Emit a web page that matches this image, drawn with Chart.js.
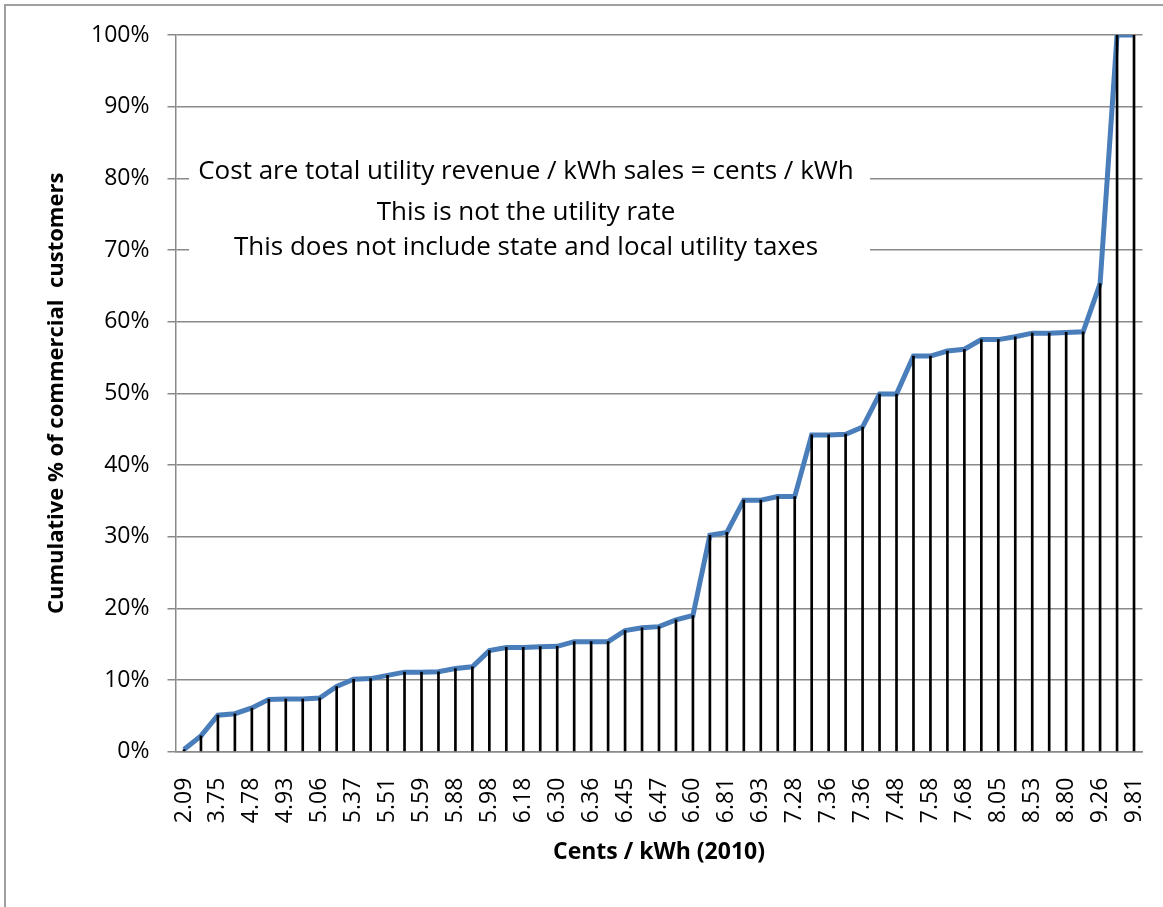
<!DOCTYPE html>
<html>
<head>
<meta charset="utf-8">
<script src="https://cdn.jsdelivr.net/npm/chart.js@4.4.1/dist/chart.umd.min.js"></script>
<style>
  html, body { margin: 0; padding: 0; background: #fff; }
  #wrap { position: relative; width: 1163px; height: 907px; }
  #frame { position: absolute; left: 4px; top: 4px; right: -10px; bottom: -10px; border-left: 2px solid #a0a0a0; border-top: 2px solid #a0a0a0; }
  canvas { position: absolute; left: 0; top: 0; }
</style>
</head>
<body>
<div id="wrap">
  <div id="frame"></div>
  <canvas id="chart" width="1163" height="907"></canvas>
</div>
<script>
// only every other category carries a printed label
const categories = [
  '2.09', '', '3.75', '', '4.78', '', '4.93', '', '5.06', '', '5.37', '', '5.51', '', '5.59', '',
  '5.88', '', '5.98', '', '6.18', '', '6.30', '', '6.36', '', '6.45', '', '6.47', '', '6.60', '',
  '6.81', '', '6.93', '', '7.28', '', '7.36', '', '7.36', '', '7.48', '', '7.58', '', '7.68', '',
  '8.05', '', '8.53', '', '8.80', '', '9.26', '', '9.81'
];

const cumulativePct = [
  0.3, 2.2, 5.1, 5.3, 6.1, 7.3, 7.35, 7.35, 7.5, 9.1, 10.1, 10.2, 10.65, 11.1, 11.1, 11.15,
  11.6, 11.85, 14.1, 14.55, 14.55, 14.65, 14.7, 15.35, 15.35, 15.35, 16.9, 17.3, 17.45, 18.4, 19.0, 30.2,
  30.6, 35.1, 35.1, 35.6, 35.6, 44.2, 44.2, 44.3, 45.3, 49.9, 49.9, 55.2, 55.2, 55.9, 56.15, 57.5,
  57.5, 57.9, 58.4, 58.4, 58.5, 58.6, 65.3, 100, 100
];

const noteLines = [
  'Cost are total utility revenue / kWh sales = cents / kWh',
  'This is not the utility rate',
  'This does not include state and local utility taxes'
];

const FONT = '"Open Sans", "DejaVu Sans", sans-serif';

// white box with the three note lines, sitting over the gridlines
const notePlugin = {
  id: 'note',
  afterDatasetsDraw(chart) {
    const ctx = chart.ctx;
    ctx.save();
    ctx.fillStyle = '#fff';
    ctx.fillRect(189, 152, 681, 112);
    ctx.fillStyle = '#000';
    ctx.font = '26px ' + FONT;
    ctx.textAlign = 'center';
    ctx.textBaseline = 'middle';
    const cx = 526;
    [172, 213, 248].forEach((y, i) => ctx.fillText(noteLines[i], cx, y));
    ctx.restore();
  }
};

new Chart(document.getElementById('chart').getContext('2d'), {
  type: 'bar',
  data: {
    labels: categories,
    datasets: [
      {
        type: 'line',
        data: cumulativePct,
        borderColor: '#4a7ebb',
        borderWidth: 5,
        pointRadius: 0,
        tension: 0,
        order: 2
      },
      {
        // drop lines
        type: 'bar',
        data: cumulativePct,
        backgroundColor: '#000',
        barThickness: 2,
        order: 1
      }
    ]
  },
  options: {
    responsive: false,
    animation: false,
    layout: { padding: { left: 40, top: 35, right: 20.5, bottom: 37 } },
    plugins: { legend: { display: false }, tooltip: { enabled: false } },
    scales: {
      x: {
        offset: true,
        grid: { display: false, drawTicks: false },
        border: { display: true, color: '#8a8a8a', width: 1.5 },
        ticks: {
          autoSkip: false,
          minRotation: 90,
          maxRotation: 90,
          padding: 26,
          color: '#000',
          font: { family: FONT, size: 23 }
        },
        title: {
          display: true,
          text: 'Cents / kWh (2010)',
          color: '#000',
          font: { family: FONT, size: 23, weight: 'bold' },
          padding: { top: 4, bottom: 4 }
        },
        afterFit: (s) => { s.height = 118.3; s.paddingLeft = 0; s.paddingRight = 0; }
      },
      y: {
        min: 0,
        max: 100,
        ticks: {
          stepSize: 10,
          padding: 18,
          color: '#000',
          font: { family: FONT, size: 23 },
          callback: (v) => v + '%'
        },
        grid: { color: '#8a8a8a', lineWidth: 1.5, tickLength: 8 },
        border: { display: true, color: '#8a8a8a', width: 1.5 },
        title: {
          display: true,
          text: 'Cumulative % of commercial  customers',
          color: '#000',
          font: { family: FONT, size: 22, weight: 'bold' },
          padding: { top: 4, bottom: 4 }
        },
        afterFit: (s) => { s.width = 135.5; }
      }
    }
  },
  plugins: [notePlugin]
});
</script>
</body>
</html>
